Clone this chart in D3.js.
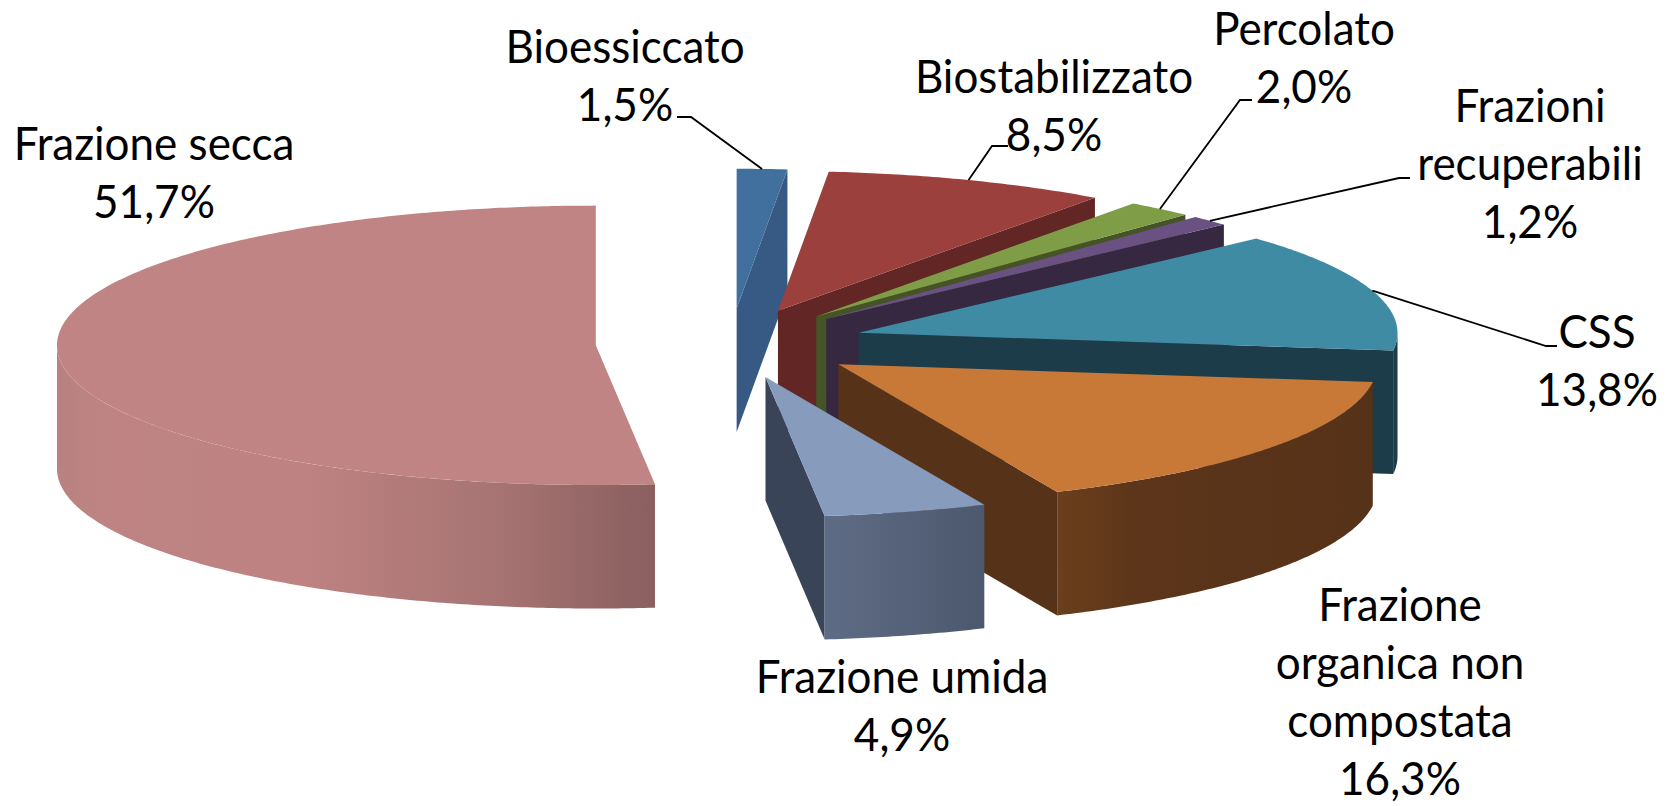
<!DOCTYPE html>
<html lang="it">
<head>
<meta charset="utf-8">
<title>Composizione percentuale</title>
<script src="https://cdn.jsdelivr.net/npm/d3@7/dist/d3.min.js"></script>
<style>
html,body{margin:0;padding:0;background:#fff;overflow:hidden}
svg{display:block}
text{font-family:Lato,"Open Sans",sans-serif;fill:#000}
</style>
</head>
<body>
<svg id="chart" width="1672" height="806"></svg>
<script>
// ---- data ----
const categories = ["Frazione secca","Bioessiccato","Biostabilizzato","Percolato","Frazioni recuperabili","CSS","Frazione organica non compostata","Frazione umida"];
const values = [51.7,1.5,8.5,2.0,1.2,13.8,16.3,4.9];
// ---- styles ----
const topColors  = ["#BF8483","#41709F","#9C403E","#7F9C47","#6A5181","#3F8BA3","#C87937","#879BBD"];
const faceColors = ["#8A5F5F","#375A85","#622624","#445426","#362841","#1B3C48","#563218","#3A4459"];
const wallStops  = [
  [[0,"#B88281"],[.08,"#BE8483"],[.42,"#BD8281"],[.72,"#A87574"],[1,"#8A5F5F"]],
  [[0,"#375A85"],[1,"#375A85"]],
  [[0,"#622624"],[1,"#622624"]],
  [[0,"#445426"],[1,"#445426"]],
  [[0,"#362841"],[1,"#362841"]],
  [[0,"#1B3C48"],[1,"#1B3C48"]],
  [[0,"#6B3F1C"],[.25,"#5C351A"],[1,"#563218"]],
  [[0,"#5F6C85"],[1,"#4C586D"]]
];
// ---- layout ----
const explosion = 0.25;
const cx = 730.3, cy = 343.4, rx = 538.8, ry = 139.7, depth = 123.5;
const fontSize = 45.5, textStretch = 0.967;
const lineGap = 58;
// label layout per category: centre x, y of first line, wrapped name lines, leader elbow
const labelX = [154,625,1054,1304,1530,1597,1400,902];
const labelY = [142.5,45.5,76,27.5,105,330.5,604,675.5];
const labelLines = [["Frazione secca"],["Bioessiccato"],["Biostabilizzato"],["Percolato"],["Frazioni","recuperabili"],["CSS"],["Frazione","organica non","compostata"],["Frazione umida"]];
const leaderElbows = [null,[[677,117],[691,117]],[[1008,146],[992,146]],[[1252,100],[1240,100]],[[1410,178],[1399,178]],[[1557,346],[1546,346]],null,null];

const svg = d3.select("#chart");
const sx = d3.scaleLinear().domain([-1,1]).range([cx-rx,cx+rx]);
const sy = d3.scaleLinear().domain([-1,1]).range([cy-ry,cy+ry]);
const total = d3.sum(values);
const a0 = -2*Math.PI*values[0]/total;
const arcs = d3.pie().sort(null).startAngle(a0).endAngle(a0+2*Math.PI)(values);
const line = d3.line();
const defs = svg.append("defs");

function geom(d){
  const mid = (d.startAngle+d.endAngle)/2;
  const ox = explosion*Math.sin(mid), oy = -explosion*Math.cos(mid);
  const pt = (a,r=1,dz=0)=>[sx(ox+r*Math.sin(a)), sy(oy-r*Math.cos(a))+dz];
  return {mid,pt};
}
const steps = (a,b)=>{
  const n = Math.max(2,Math.ceil(Math.abs(b-a)/0.01));
  return d3.range(n+1).map(i=>a+(b-a)*i/n);
};

const order = [1,2,3,4,5,6,7,0];
order.forEach(i=>{
  const d = arcs[i], {pt} = geom(d), g = svg.append("g").attr("class","slice");
  const s = d.startAngle, e = d.endAngle;
  // radial faces facing the viewer
  const quad = a=>line([pt(a,0),pt(a),pt(a,1,depth),pt(a,0,depth)])+"Z";
  if(Math.sin(e)>1e-6) g.append("path").attr("d",quad(e)).attr("fill",faceColors[i]);
  if(Math.sin(s)<-1e-6) g.append("path").attr("d",quad(s)).attr("fill",faceColors[i]);
  // outer wall: only the front half of the rim
  let ws = s, we = e;
  if(ws<0){ws+=2*Math.PI;we+=2*Math.PI;}
  ws = Math.max(ws,Math.PI/2); we = Math.min(we,1.5*Math.PI);
  if(we>ws){
    const as = steps(ws,we);
    const outline = as.map(a=>pt(a)).concat(as.slice().reverse().map(a=>pt(a,1,depth)));
    const xs = outline.map(p=>p[0]);
    const id = "wall"+i;
    const grad = defs.append("linearGradient").attr("id",id).attr("gradientUnits","userSpaceOnUse")
      .attr("x1",d3.min(xs)).attr("x2",d3.max(xs)).attr("y1",0).attr("y2",0);
    wallStops[i].forEach(st=>grad.append("stop").attr("offset",st[0]).attr("stop-color",st[1]));
    g.append("path").attr("d",line(outline)+"Z").attr("fill",`url(#${id})`);
  }
  // top surface
  const topPts = [pt(s,0)].concat(steps(s,e).map(a=>pt(a)));
  g.append("path").attr("d",line(topPts)+"Z").attr("fill",topColors[i]);
});

// leader lines, ending on the rim at each slice's mid angle
arcs.forEach((d,i)=>{
  if(!leaderElbows[i]) return;
  const {mid,pt} = geom(d);
  svg.append("path").attr("d",line(leaderElbows[i].concat([pt(mid)])))
    .attr("fill","none").attr("stroke","#000").attr("stroke-width",1.8);
});

// labels
const fmt = v=>d3.format(".1f")(v).replace(".",",")+"%";
categories.forEach((c,i)=>{
  const t = svg.append("text").attr("text-anchor","middle").attr("font-size",fontSize)
    .attr("transform",`translate(${labelX[i]},0) scale(${textStretch},1)`);
  labelLines[i].concat([fmt(values[i])]).forEach((ln,j)=>{
    t.append("tspan").attr("x",0).attr("y",labelY[i]+j*lineGap)
     .attr("dominant-baseline","central").text(ln);
  });
});
</script>
</body>
</html>
